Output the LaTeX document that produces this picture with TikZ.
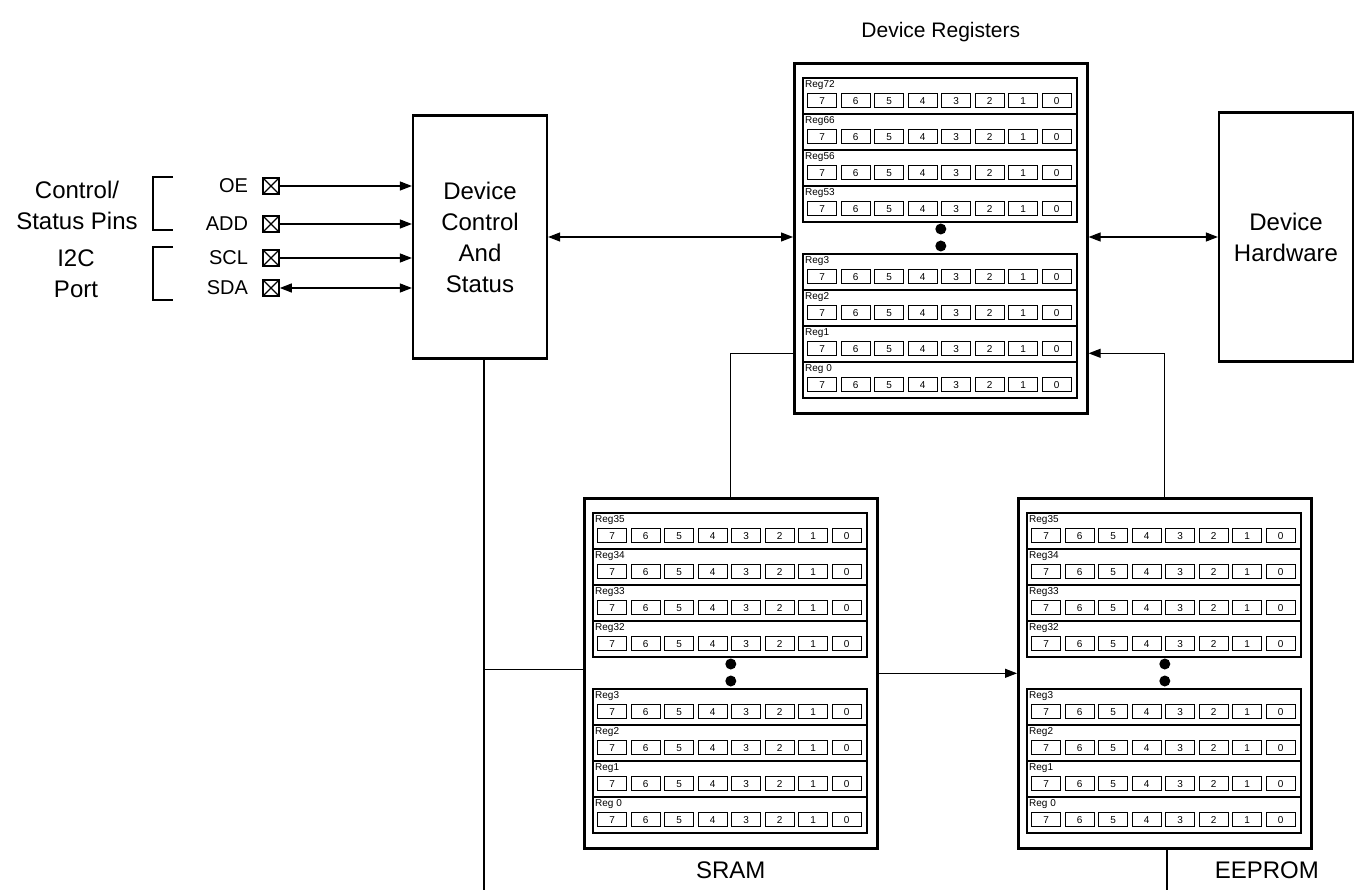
\documentclass[tikz,border=0pt]{standalone}
\usepackage{fontspec}
\setmainfont{Liberation Sans}
\usetikzlibrary{calc,positioning,arrows.meta}

\newcommand{\bigfont}{\fontsize{24}{31}\selectfont}
\newcommand{\titlefont}{\fontsize{21}{26}\selectfont}
\newcommand{\pinfont}{\fontsize{20}{24}\selectfont}
\newcommand{\regfont}{\fontsize{10}{10}\selectfont}

\tikzset{
  blk/.style={draw,line width=2.2pt,minimum width=134pt,inner sep=0pt,align=center,font=\bigfont},
  bank/.style={draw,line width=2.6pt,minimum width=293pt,minimum height=350pt,inner sep=0pt},
  regrow/.style={draw,line width=1.8pt,minimum width=274pt,minimum height=36pt,inner sep=0pt},
  bitbox/.style={draw,line width=1.1pt,minimum width=29pt,minimum height=14pt,inner sep=0pt,
    text height=7.2pt,text depth=0pt,font=\regfont},
  reglabel/.style={inner sep=0pt,font=\regfont},
  pinbox/.style={draw,line width=1.6pt,minimum size=16pt,inner sep=0pt,
    path picture={\draw[line width=1.2pt] (path picture bounding box.north west)--(path picture bounding box.south east)
      (path picture bounding box.north east)--(path picture bounding box.south west);}},
  pinlabel/.style={inner sep=0pt,font=\pinfont},
  biglabel/.style={inner sep=0pt,align=center,font=\bigfont},
  wire/.style={line width=1.2pt},
  arr/.style={wire,-{Triangle[length=12pt,width=9pt]}},
  biarr/.style={wire,{Triangle[length=12pt,width=9pt]}-{Triangle[length=12pt,width=9pt]}}
}

% one register row: name, position, label
\newcommand{\regrow}[3]{%
  \node[regrow,anchor=north west] (#1) at (#2) {};
  \node[reglabel,anchor=north west] (#1-lbl) at ($(#1.north west)+(3,3)$) {#3};
  \foreach \b [count=\j from 0] in {7,6,...,0}
    \node[bitbox,anchor=north west] (#1-\b) at ($(#1.north west)+(5+33.5*\j,16)$) {\b};
}
% register bank: name, top left, upper rows, lower rows
\newcommand{\regbank}[4]{%
  \node[bank,anchor=north west] (#1) at (#2) {};
  \foreach \lbl [count=\i from 0] in {#3}
    \regrow{#1-a\i}{$(#1.north west)+(9,15+36*\i)$}{\lbl};
  \fill ($(#1.north)+(0,167)$) circle (5.5);
  \fill ($(#1.north)+(0,184)$) circle (5.5);
  \foreach \lbl [count=\i from 0] in {#4}
    \regrow{#1-b\i}{$(#1.north west)+(9,191+36*\i)$}{\lbl};
}

\begin{document}
\begin{tikzpicture}[x=1pt,y=-1pt]
\useasboundingbox (0,0) rectangle (1356,890);

\node[blk,minimum height=243pt] (dc) at (480,237) {Device\\Control\\And\\Status};
\node[blk,minimum height=249pt] (dh) at (1286,237) {Device\\Hardware};

\regbank{devreg}{793,62}{Reg72,Reg66,Reg56,Reg53}{Reg3,Reg2,Reg1,Reg 0}
\regbank{sram}{583,497}{Reg35,Reg34,Reg33,Reg32}{Reg3,Reg2,Reg1,Reg 0}
\regbank{eeprom}{1017,497}{Reg35,Reg34,Reg33,Reg32}{Reg3,Reg2,Reg1,Reg 0}

\node[biglabel,font=\titlefont,above=20pt of devreg] (drtitle) {Device Registers};
\node[biglabel,below=12pt of sram] (sramtitle) {SRAM};
\node[biglabel,below=12pt of eeprom,xshift=102pt] (eetitle) {EEPROM};

% pins
\node[pinbox] (oe) at (271,186) {};
\node[pinbox] (add) at (271,224) {};
\node[pinbox] (scl) at (271,258) {};
\node[pinbox] (sda) at (271,288) {};
\node[pinlabel,left=14pt of oe] (oelbl) {OE};
\node[pinlabel,left=14pt of add] (addlbl) {ADD};
\node[pinlabel,left=14pt of scl] (scllbl) {SCL};
\node[pinlabel,left=14pt of sda] (sdalbl) {SDA};

\draw[line width=1.3pt] (173,177) -| (153,230) -- (173,230);
\draw[line width=1.3pt] (173,247) -| (153,300) -- (173,300);
\node[biglabel] (ctrllbl) at (77,205) {Control/\\Status Pins};
\node[biglabel] (i2clbl) at (76,274) {I2C\\Port};

\draw[arr] (oe.east) -- (oe.east -| dc.west);
\draw[arr] (add.east) -- (add.east -| dc.west);
\draw[arr] (scl.east) -- (scl.east -| dc.west);
\draw[biarr] (sda.east) -- (sda.east -| dc.west);

\draw[biarr] (dc.east) -- (dc.east -| devreg.west);
\draw[biarr] (dc.east -| devreg.east) -- (dc.east -| dh.west);

\draw[wire] (sram.north) |- ([yshift=-115pt]devreg.west);
\draw[arr] (eeprom.north) |- ([yshift=-115pt]devreg.east);
\draw[arr] (sram.east) -- (sram.east -| eeprom.west);

\coordinate (bus) at ([xshift=4pt]dc.south);
\coordinate (busend) at (484,890);
\draw[wire] (bus) -- (busend);
\draw[wire] ([yshift=4pt]sram.west) -- ([yshift=4pt]sram.west -| bus);
\coordinate (eeend) at (1167,890);
\draw[wire] (eeend |- eeprom.south) -- (eeend);
\end{tikzpicture}
\end{document}
